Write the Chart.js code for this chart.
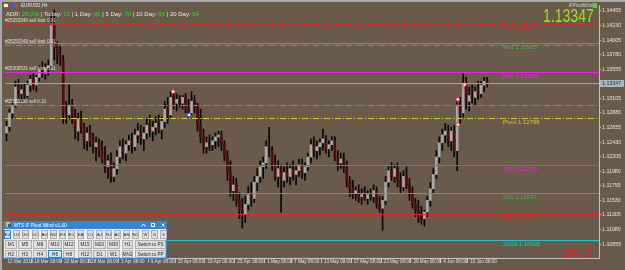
<!DOCTYPE html>
<html>
<head>
<meta charset="utf-8">
<script src="https://cdn.jsdelivr.net/npm/chart.js@4.4.1/dist/chart.umd.min.js"></script>
<style>
html, body { margin: 0; padding: 0; background: #6a5a4a; }
canvas { display: block; }
</style>
</head>
<body>
<canvas id="chart" width="625" height="270"></canvas>
<script>
// EURUSD H4 candles (oldest first)
const opens = [
  1.1257,1.1267,1.1288,1.1300,1.1328,1.1318,1.1324,1.1315,1.1331,1.1340,
  1.1331,1.1343,1.1355,1.1349,1.1358,1.1361,1.1423,1.1389,1.1377,1.1370,
  1.1288,1.1285,1.1300,1.1282,1.1260,1.1279,1.1266,1.1245,1.1257,1.1245,
  1.1236,1.1242,1.1230,1.1217,1.1205,1.1214,1.1190,1.1202,1.1220,1.1236,
  1.1226,1.1239,1.1245,1.1236,1.1254,1.1260,1.1248,1.1257,1.1269,1.1260,
  1.1266,1.1272,1.1263,1.1275,1.1294,1.1285,1.1312,1.1303,1.1309,1.1303,
  1.1312,1.1297,1.1288,1.1306,1.1297,1.1269,1.1251,1.1236,1.1242,1.1239,
  1.1245,1.1251,1.1254,1.1239,1.1223,1.1196,1.1168,1.1177,1.1153,1.1138,
  1.1131,1.1147,1.1162,1.1156,1.1181,1.1190,1.1205,1.1211,1.1236,1.1230,
  1.1208,1.1190,1.1202,1.1184,1.1196,1.1190,1.1202,1.1193,1.1199,1.1208,
  1.1196,1.1205,1.1220,1.1239,1.1230,1.1236,1.1242,1.1248,1.1233,1.1239,
  1.1245,1.1220,1.1211,1.1217,1.1205,1.1181,1.1171,1.1165,1.1168,1.1159,
  1.1162,1.1156,1.1162,1.1159,1.1168,1.1147,1.1141,1.1153,1.1181,1.1199,
  1.1190,1.1202,1.1184,1.1174,1.1190,1.1177,1.1162,1.1147,1.1138,1.1131,
  1.1125,1.1135,1.1153,1.1171,1.1193,1.1220,1.1242,1.1254,1.1260,1.1245,
  1.1260,1.1230,1.1300,1.1288,1.1334,1.1306,1.1315,1.1312,1.1321,1.1318,
  1.1331,1.1337
]
const highs = [
  1.1275,1.1294,1.1306,1.1337,1.1340,1.1331,1.1334,1.1337,1.1346,1.1349,
  1.1346,1.1361,1.1367,1.1364,1.1370,1.1441,1.1447,1.1398,1.1392,1.1377,
  1.1306,1.1331,1.1309,1.1294,1.1288,1.1291,1.1272,1.1266,1.1269,1.1257,
  1.1251,1.1248,1.1245,1.1236,1.1223,1.1226,1.1211,1.1230,1.1245,1.1248,
  1.1245,1.1254,1.1257,1.1263,1.1272,1.1269,1.1266,1.1279,1.1285,1.1275,
  1.1282,1.1285,1.1282,1.1306,1.1312,1.1321,1.1323,1.1318,1.1315,1.1315,
  1.1318,1.1309,1.1321,1.1315,1.1303,1.1294,1.1263,1.1251,1.1254,1.1251,
  1.1257,1.1260,1.1260,1.1245,1.1230,1.1214,1.1190,1.1187,1.1165,1.1156,
  1.1159,1.1174,1.1181,1.1190,1.1202,1.1214,1.1220,1.1245,1.1266,1.1236,
  1.1223,1.1214,1.1208,1.1205,1.1211,1.1208,1.1214,1.1205,1.1217,1.1217,
  1.1211,1.1226,1.1248,1.1251,1.1245,1.1248,1.1263,1.1254,1.1245,1.1251,
  1.1251,1.1230,1.1226,1.1226,1.1214,1.1190,1.1184,1.1174,1.1177,1.1171,
  1.1174,1.1168,1.1171,1.1177,1.1174,1.1159,1.1159,1.1190,1.1205,1.1211,
  1.1208,1.1211,1.1196,1.1199,1.1205,1.1187,1.1174,1.1156,1.1153,1.1144,
  1.1138,1.1159,1.1181,1.1202,1.1230,1.1251,1.1263,1.1272,1.1269,1.1266,
  1.1269,1.1309,1.1312,1.1349,1.1343,1.1328,1.1331,1.1328,1.1337,1.1337,
  1.1343,1.1343
]
const lows = [
  1.1245,1.1260,1.1279,1.1297,1.1311,1.1306,1.1309,1.1312,1.1321,1.1324,
  1.1321,1.1337,1.1343,1.1340,1.1346,1.1358,1.1370,1.1364,1.1361,1.1272,
  1.1272,1.1279,1.1272,1.1248,1.1245,1.1257,1.1233,1.1230,1.1236,1.1226,
  1.1214,1.1220,1.1211,1.1196,1.1187,1.1181,1.1182,1.1193,1.1211,1.1217,
  1.1214,1.1230,1.1226,1.1230,1.1242,1.1239,1.1230,1.1248,1.1251,1.1245,
  1.1254,1.1257,1.1248,1.1266,1.1272,1.1279,1.1294,1.1291,1.1297,1.1294,
  1.1288,1.1282,1.1285,1.1288,1.1260,1.1242,1.1226,1.1226,1.1230,1.1230,
  1.1233,1.1236,1.1230,1.1214,1.1184,1.1159,1.1153,1.1144,1.1125,1.1110,
  1.1119,1.1138,1.1144,1.1150,1.1168,1.1181,1.1187,1.1202,1.1220,1.1199,
  1.1184,1.1174,1.1135,1.1174,1.1181,1.1177,1.1184,1.1177,1.1190,1.1187,
  1.1184,1.1199,1.1211,1.1220,1.1217,1.1223,1.1230,1.1226,1.1220,1.1230,
  1.1214,1.1199,1.1202,1.1196,1.1174,1.1159,1.1156,1.1153,1.1150,1.1147,
  1.1153,1.1147,1.1153,1.1150,1.1141,1.1135,1.1107,1.1147,1.1174,1.1184,
  1.1181,1.1174,1.1165,1.1168,1.1171,1.1153,1.1141,1.1128,1.1119,1.1116,
  1.1113,1.1128,1.1144,1.1165,1.1187,1.1211,1.1230,1.1242,1.1236,1.1230,
  1.1220,1.1199,1.1272,1.1282,1.1294,1.1291,1.1303,1.1300,1.1309,1.1312,
  1.1321,1.1328
]
const closes = [
  1.1267,1.1288,1.1300,1.1328,1.1318,1.1324,1.1315,1.1331,1.1340,1.1331,
  1.1343,1.1355,1.1349,1.1358,1.1361,1.1423,1.1389,1.1377,1.1370,1.1288,
  1.1285,1.1300,1.1282,1.1260,1.1279,1.1266,1.1245,1.1257,1.1245,1.1236,
  1.1242,1.1230,1.1217,1.1205,1.1214,1.1190,1.1202,1.1220,1.1236,1.1226,
  1.1239,1.1245,1.1236,1.1254,1.1260,1.1248,1.1257,1.1269,1.1260,1.1266,
  1.1272,1.1263,1.1275,1.1294,1.1285,1.1312,1.1303,1.1309,1.1303,1.1312,
  1.1297,1.1288,1.1306,1.1297,1.1269,1.1251,1.1236,1.1242,1.1239,1.1245,
  1.1251,1.1254,1.1239,1.1223,1.1196,1.1168,1.1177,1.1153,1.1138,1.1131,
  1.1147,1.1162,1.1156,1.1181,1.1190,1.1205,1.1211,1.1236,1.1230,1.1208,
  1.1190,1.1202,1.1184,1.1196,1.1190,1.1202,1.1193,1.1199,1.1208,1.1196,
  1.1205,1.1220,1.1239,1.1230,1.1236,1.1242,1.1248,1.1233,1.1239,1.1245,
  1.1220,1.1211,1.1217,1.1205,1.1181,1.1171,1.1165,1.1168,1.1159,1.1162,
  1.1156,1.1162,1.1159,1.1168,1.1147,1.1141,1.1153,1.1181,1.1199,1.1190,
  1.1202,1.1184,1.1174,1.1190,1.1177,1.1162,1.1147,1.1138,1.1131,1.1125,
  1.1135,1.1153,1.1171,1.1193,1.1220,1.1242,1.1254,1.1260,1.1245,1.1260,
  1.1230,1.1300,1.1288,1.1334,1.1306,1.1315,1.1312,1.1321,1.1318,1.1331,
  1.1337,1.13347
]

// time axis: 162 bars + empty right shift
const barSlots = 199
const dateTicks = ['12 Mar 2019', '18 Mar 08:00', '22 Mar 08:00', '28 Mar 08:00', '3 Apr 08:00', '9 Apr 08:00',
  '15 Apr 08:00', '19 Apr 08:00', '25 Apr 08:00', '1 May 08:00', '7 May 08:00', '13 May 08:00',
  '17 May 08:00', '23 May 08:00', '29 May 08:00', '4 Jun 08:00', '10 Jun 08:00']
const dateTickIdx = [0, 9, 19, 28, 38, 48, 57, 67, 77, 87, 96, 106, 116, 126, 136, 146, 155]

// price axis
const priceTicks = [1.14455, 1.14230, 1.14005, 1.13780, 1.13555, 1.13105, 1.12880, 1.12655, 1.12430,
  1.12205, 1.11980, 1.11755, 1.11530, 1.11305, 1.11080, 1.10855]
const bid = 1.13347

// pivot levels
const levelNames = ['R78', 'R61', 'R50', 'Pivot', 'S50', 'S61', 'S78', 'S100']
const levelValues = [1.14271, 1.13955, 1.13513, 1.12796, 1.12079, 1.11637, 1.11321, 1.10920]
const levelText = ['1.1427', '1.13955', '1.13513', '1.12796', '1.12079', '1.11637', '1.11321', '1.10920']
const levelColors = ['#ee2222', '#44b844', '#f020f0', '#d6cc3a', '#f020f0', '#44b844', '#ee2222', '#22c8c8']

// order lines
const orderValues = [1.14250, 1.13932, 1.13505, 1.13000]
const orderText = ['#05253340 sell limit 0.01', '#05253348 sell limit 0.01', '#05300531 sell limit 0.01', '#05261130 sell 0.10']
const orderColors = ['#ee2222', '#44b844', '#f070f0', '#44b844']

// indicator marks
const zigX = [151.2, 151.2, 153.5]
const zigY = [1.1270, 1.1309, 1.1332]
const redMarkX = [55.8, 151.2, 151.2, 153.5]
const redMarkY = [1.1321, 1.1270, 1.1309, 1.1332]
const blueMarkX = [61.2]
const blueMarkY = [1.1285]

// panel buttons
const symbolButtons = ['EU', 'UJ', 'GU', 'UC', 'AU', 'NU', 'EG', 'EC', 'EA', 'CJ', 'AJ', 'NJ', 'AC', 'AN', 'NC', 'W', 'G', 'S']
const tfRowA = ['M1', 'M5', 'M6', 'M10', 'M12', 'M15', 'M20', 'M30', 'H1', 'Switch to PS']
const tfRowB = ['H2', 'H3', 'H4', 'H6', 'H8', 'H12', 'D1', 'W1', 'MN1', 'Switch to PP']

const adrParts = [['ADR: ', '#e8e8e8'], ['25.0%', '#22e022'], [' | Today: ', '#e8e8e8'], ['15', '#22e022'],
  [' | 1 Day: ', '#e8e8e8'], ['36', '#22e022'], [' | 5 Day: ', '#e8e8e8'], ['74', '#22e022'],
  [' | 10 Day: ', '#e8e8e8'], ['65', '#22e022'], [' | 20 Day: ', '#e8e8e8'], ['54', '#22e022']]

const xLabels = Array(barSlots).fill('')
dateTickIdx.forEach((k, i) => { xLabels[k] = dateTicks[i] })

const FONT = '"Liberation Sans", Arial, sans-serif'

function hline(c, left, right, py) {
  c.beginPath()
  c.moveTo(left, py)
  c.lineTo(right, py)
  c.stroke()
}

const mtPlugin = {
  id: 'mt',
  beforeDraw(chart) {
    const c = chart.ctx
    c.save()
    c.fillStyle = '#6a5a4a'
    c.fillRect(0, 0, chart.width, chart.height)
    c.restore()
  },
  afterDatasetsDraw(chart) {
    const c = chart.ctx
    const { left, right } = chart.chartArea
    const y = chart.scales.y
    c.save()
    c.lineWidth = 1
    // bid line
    c.strokeStyle = '#a4a4a4'
    c.setLineDash([])
    hline(c, left, right, Math.round(y.getPixelForValue(bid)) + 0.5)
    // order lines
    orderValues.forEach((v, i) => {
      const py = Math.round(y.getPixelForValue(v)) + 0.5
      c.strokeStyle = orderColors[i]
      c.setLineDash([6, 2, 1, 2])
      hline(c, left, right, py)
      c.setLineDash([])
      c.fillStyle = '#e0e0e0'
      c.font = '4.6px ' + FONT
      c.textBaseline = 'bottom'
      c.fillText(orderText[i], 5, py - 1)
    })
    // pivot levels
    levelValues.forEach((v, i) => {
      const py = Math.round(y.getPixelForValue(v)) + 0.5
      c.strokeStyle = levelColors[i]
      c.setLineDash(levelNames[i] === 'Pivot' ? [6, 2, 1, 2] : [])
      hline(c, left, right, py)
      c.setLineDash([])
      c.fillStyle = levelColors[i]
      c.font = '6px ' + FONT
      c.textBaseline = 'top'
      c.fillText(levelNames[i] + ' ' + levelText[i], 503, py + 0.5)
    })
    c.restore()
  },
  afterDraw(chart) {
    const c = chart.ctx
    const y = chart.scales.y
    c.save()
    // window frame
    c.fillStyle = '#a8a8a8'
    c.fillRect(0, 0, chart.width, 2)
    c.fillRect(0, 0, 2, chart.height)

    // symbol caption
    c.fillStyle = '#d33'; c.fillRect(3, 3, 6, 5)
    c.fillStyle = '#fff'; c.fillRect(4, 4, 4, 3)
    c.fillStyle = '#36c'; c.fillRect(12, 3, 3, 5)
    c.fillStyle = '#d33'; c.fillRect(15, 3, 3, 5)
    c.fillStyle = '#e8e8e8'
    c.font = '4.6px ' + FONT
    c.textBaseline = 'middle'
    c.fillText('EURUSD,H4', 21, 6)

    // ADR line
    c.font = '6px ' + FONT
    let tx = 6
    adrParts.forEach(([t, col]) => {
      c.fillStyle = col
      c.fillText(t, tx, 14)
      tx += c.measureText(t).width
    })

    // indicator name + big price
    c.fillStyle = '#d8d8d8'
    c.font = '4.6px ' + FONT
    c.fillText('iFPivotWind', 569, 6)
    c.fillStyle = '#5c5'; c.fillRect(593, 3, 4, 5)
    c.save()
    c.translate(543, 22)
    c.scale(0.78, 1)
    c.fillStyle = '#9ee21e'
    c.font = '18px ' + FONT
    c.textBaseline = 'alphabetic'
    c.fillText(bid.toFixed(5), 0, 0)
    c.restore()

    c.fillStyle = '#ff1c1c'
    c.font = '15px ' + FONT
    c.textBaseline = 'alphabetic'
    c.fillText('-36.2', 558, 258)

    // current price box on the price axis
    const py = Math.round(y.getPixelForValue(bid))
    c.fillStyle = '#a9b7c6'
    c.fillRect(600, py - 3, 24, 7)
    c.fillStyle = '#2e2e2e'
    c.font = '5.3px ' + FONT
    c.textBaseline = 'middle'
    c.fillText(bid.toFixed(5), 602, py + 0.5)

    drawPanel(c)
    c.restore()
  }
}

function button(c, x, yy, w, h, text, selected) {
  c.fillStyle = selected ? '#cce4f7' : '#e1e1e1'
  c.fillRect(x, yy, w, h)
  c.strokeStyle = selected ? '#3c7fb1' : '#adadad'
  c.lineWidth = 1
  c.strokeRect(x + 0.5, yy + 0.5, w - 1, h - 1)
  c.fillStyle = '#1a1a1a'
  c.textAlign = 'center'
  c.fillText(text, x + w / 2, yy + h / 2 + 0.3)
  c.textAlign = 'left'
}

function drawPanel(c) {
  const px = 3, py = 221, pw = 164, ph = 38
  c.fillStyle = '#f0f0f0'
  c.fillRect(px, py, pw, ph)
  c.fillStyle = '#3784d4'
  c.fillRect(px, py, pw, 8)
  c.strokeStyle = '#3784d4'
  c.lineWidth = 1
  c.strokeRect(px + 0.5, py + 0.5, pw - 1, ph - 1)
  // title
  c.fillStyle = '#e8c040'; c.fillRect(6, 222, 4, 5)
  c.fillStyle = '#2a5ca8'; c.fillRect(8, 224, 3, 3)
  c.fillStyle = '#ffffff'
  c.font = '4.8px ' + FONT
  c.textBaseline = 'middle'
  c.fillText('MTS iF Pivot Wind v1.00', 14, 225.3)
  c.strokeStyle = '#ffffff'
  c.beginPath()
  c.moveTo(141.5, 226.5); c.lineTo(143.5, 224); c.lineTo(145.5, 226.5)
  c.stroke()
  c.strokeRect(151.5, 223.5, 3, 3)
  c.beginPath()
  c.moveTo(161.5, 223.5); c.lineTo(164.5, 226.5)
  c.moveTo(164.5, 223.5); c.lineTo(161.5, 226.5)
  c.stroke()

  c.font = '4.2px ' + FONT
  symbolButtons.forEach((s, k) => {
    button(c, Math.round(4 + k * 9.17), 230, 7, 9, s, k === 0)
  })
  const xs = [5, 18, 33, 48, 63, 78, 93, 107, 122, 135]
  const ws = [12, 14, 14, 14, 12, 14, 13, 13, 11, 31]
  c.font = '4.6px ' + FONT
  tfRowA.forEach((s, k) => button(c, xs[k], 240, ws[k], 9, s, false))
  tfRowB.forEach((s, k) => button(c, xs[k], 250, ws[k], 8, s, k === 3))
}

const ctx = document.getElementById('chart').getContext('2d')
new Chart(ctx, {
  type: 'bar',
  data: {
    labels: xLabels,
    datasets: [
      {
        label: 'wicks',
        data: lows.map((l, i) => [l, highs[i]]),
        backgroundColor: '#050505',
        barThickness: 1,
        grouped: false,
        order: 3
      },
      {
        label: 'bodies',
        data: opens.map((o, i) => [o, closes[i]]),
        backgroundColor: opens.map((o, i) => closes[i] >= o ? '#a9a9a9' : '#520c0c'),
        borderWidth: 0,
        barThickness: 2,
        minBarLength: 1,
        grouped: false,
        order: 2
      },
      {
        type: 'line',
        label: 'zigzag',
        xAxisID: 'xl',
        data: zigX.map((x, i) => ({ x, y: zigY[i] })),
        borderColor: '#ff4040',
        borderWidth: 1,
        borderDash: [1, 1],
        pointRadius: 0,
        order: 1
      },
      {
        type: 'scatter',
        label: 'red marks',
        xAxisID: 'xl',
        data: redMarkX.map((x, i) => ({ x, y: redMarkY[i] })),
        pointRadius: 1.8,
        pointBackgroundColor: '#ffffff',
        pointBorderColor: '#ff3030',
        pointBorderWidth: 1,
        order: 0
      },
      {
        type: 'scatter',
        label: 'blue marks',
        xAxisID: 'xl',
        data: blueMarkX.map((x, i) => ({ x, y: blueMarkY[i] })),
        pointRadius: 1.8,
        pointBackgroundColor: '#ffffff',
        pointBorderColor: '#2060ff',
        pointBorderWidth: 1,
        order: 0
      }
    ]
  },
  options: {
    responsive: false,
    devicePixelRatio: 1,
    animation: false,
    layout: { padding: { left: 3, top: 3, right: 0, bottom: 0 } },
    plugins: { legend: { display: false }, tooltip: { enabled: false } },
    scales: {
      x: {
        type: 'category',
        offset: true,
        afterFit: (s) => { s.height = 12 },
        border: { display: true, color: '#c4c4c4' },
        grid: {
          drawOnChartArea: false,
          tickLength: 5,
          color: (cx) => (cx.index > 0 && xLabels[cx.index]) ? '#c4c4c4' : 'rgba(0,0,0,0)'
        },
        ticks: {
          autoSkip: false,
          maxRotation: 0,
          minRotation: 0,
          align: 'start',
          labelOffset: 1,
          padding: -4,
          color: '#e4e4e4',
          font: { family: FONT, size: 4.6 },
          callback: (v, i) => xLabels[i]
        }
      },
      xl: {
        type: 'linear',
        display: false,
        offset: false,
        bounds: 'data',
        min: -0.5,
        max: barSlots - 0.5
      },
      y: {
        type: 'linear',
        position: 'right',
        min: 1.10641,
        max: 1.14547,
        afterFit: (s) => { s.width = 26 },
        afterBuildTicks: (s) => { s.ticks = priceTicks.map((v) => ({ value: v })) },
        border: { display: true, color: '#c4c4c4' },
        grid: { drawOnChartArea: false, tickLength: 2, color: '#c4c4c4' },
        ticks: {
          padding: 1,
          color: '#e4e4e4',
          font: { family: FONT, size: 5.3 },
          callback: (v) => Number(v).toFixed(5)
        }
      }
    }
  },
  plugins: [mtPlugin]
})
</script>
</body>
</html>
